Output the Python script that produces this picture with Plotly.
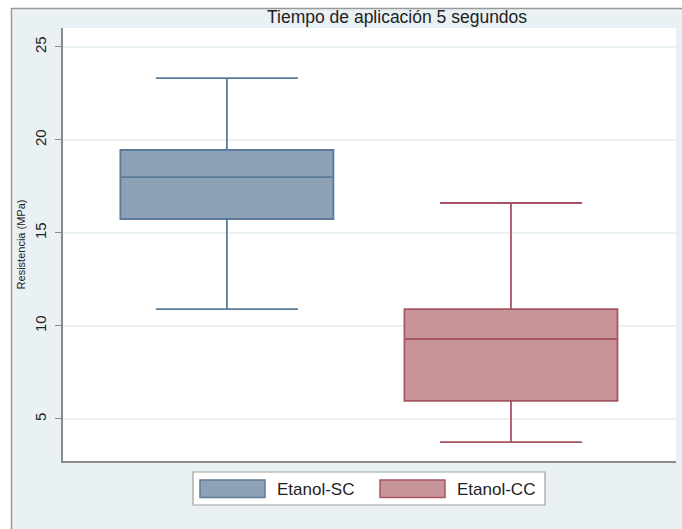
import plotly.graph_objects as go

# Resistance summary per group (MPa)
grupos = ["Etanol-SC", "Etanol-CC"]
posiciones = [0, 1]
minimo = [10.91, 3.76]
q1 = [15.75, 5.97]
mediana = [18.0, 9.30]
q3 = [19.46, 10.91]
maximo = [23.33, 16.61]

relleno = ["#8DA2B7", "#C8969A"]
borde = ["#5C7B99", "#A65562"]

fig = go.Figure()
for i, g in enumerate(grupos):
    fig.add_trace(go.Box(
        name=g,
        x=[posiciones[i]],
        q1=[q1[i]], median=[mediana[i]], q3=[q3[i]],
        lowerfence=[minimo[i]], upperfence=[maximo[i]],
        width=0.75,
        whiskerwidth=0.667,
        fillcolor=relleno[i],
        line=dict(color=borde[i], width=1.8),
        boxpoints=False,
        showlegend=False,
    ))

# Plot area in pixels: left 63, right 676, top 28, bottom 461
L, R, T, B = 63, 676, 28, 461
W, H = R - L, B - T


def px(x):
    return (x - L) / W


def py(y):
    return (B - y) / H


shapes = [
    # white outer strips with grey frame lines
    dict(type="rect", xref="paper", yref="paper", x0=px(-5), x1=px(700),
         y0=py(8), y1=py(-5), fillcolor="white", line_width=0, layer="below"),
    dict(type="rect", xref="paper", yref="paper", x0=px(-5), x1=px(11),
         y0=py(540), y1=py(-5), fillcolor="white", line_width=0, layer="below"),
    dict(type="line", xref="paper", yref="paper", x0=px(11), x1=px(700),
         y0=py(8.5), y1=py(8.5), line=dict(color="#9a9a9a", width=1.5)),
    dict(type="line", xref="paper", yref="paper", x0=px(11.5), x1=px(11.5),
         y0=py(8), y1=py(540), line=dict(color="#9a9a9a", width=1.5)),
    # legend frame
    dict(type="rect", xref="paper", yref="paper", x0=px(193), x1=px(545),
         y0=py(472), y1=py(505), fillcolor="white",
         line=dict(color="#a0a0a0", width=1.2)),
]

annotations = [
    dict(text="Tiempo de aplicación 5 segundos", xref="paper", yref="paper",
         x=px(397), y=py(17), xanchor="center", yanchor="middle",
         showarrow=False, font=dict(size=17.5, color="#222222")),
]

# legend swatches and labels
sw_x = [(200, 265), (380, 445)]
tx_x = [275, 455]
for i, g in enumerate(grupos):
    shapes.append(dict(type="rect", xref="paper", yref="paper",
                       x0=px(sw_x[i][0]), x1=px(sw_x[i][1]),
                       y0=py(480), y1=py(497.5),
                       fillcolor=relleno[i],
                       line=dict(color=borde[i], width=1.5)))
    annotations.append(dict(text=g, xref="paper", yref="paper",
                            x=px(tx_x[i]), y=py(489), xanchor="left",
                            yanchor="middle", showarrow=False,
                            font=dict(size=17, color="#222222")))

fig.update_layout(
    width=682, height=529,
    margin=dict(l=L, r=682 - R, t=T, b=529 - B),
    paper_bgcolor="#EAF1F4",
    plot_bgcolor="white",
    font=dict(family="Liberation Sans, Arial, sans-serif", color="#222222"),
    showlegend=False,
    shapes=shapes,
    annotations=annotations,
    xaxis=dict(range=[-0.577, 1.581], showticklabels=False, showgrid=False,
               zeroline=False, showline=True, linecolor="#8a8a8a",
               linewidth=1.5, ticks=""),
    yaxis=dict(range=[2.74, 26.02], tickvals=[5, 10, 15, 20, 25],
               tickangle=-90, ticks="outside", ticklen=6, tickwidth=1,
               tickcolor="#8a8a8a", showline=True, linecolor="#8a8a8a",
               linewidth=1.5, showgrid=True, gridcolor="#EAF1F4",
               gridwidth=1.5, zeroline=False, ticklabelstandoff=3,
               tickfont=dict(size=15, color="#222222"),
               title=dict(text="Resistencia (MPa)", standoff=4,
                          font=dict(size=11, color="#222222"))),
)

fig.write_html("out.html")
